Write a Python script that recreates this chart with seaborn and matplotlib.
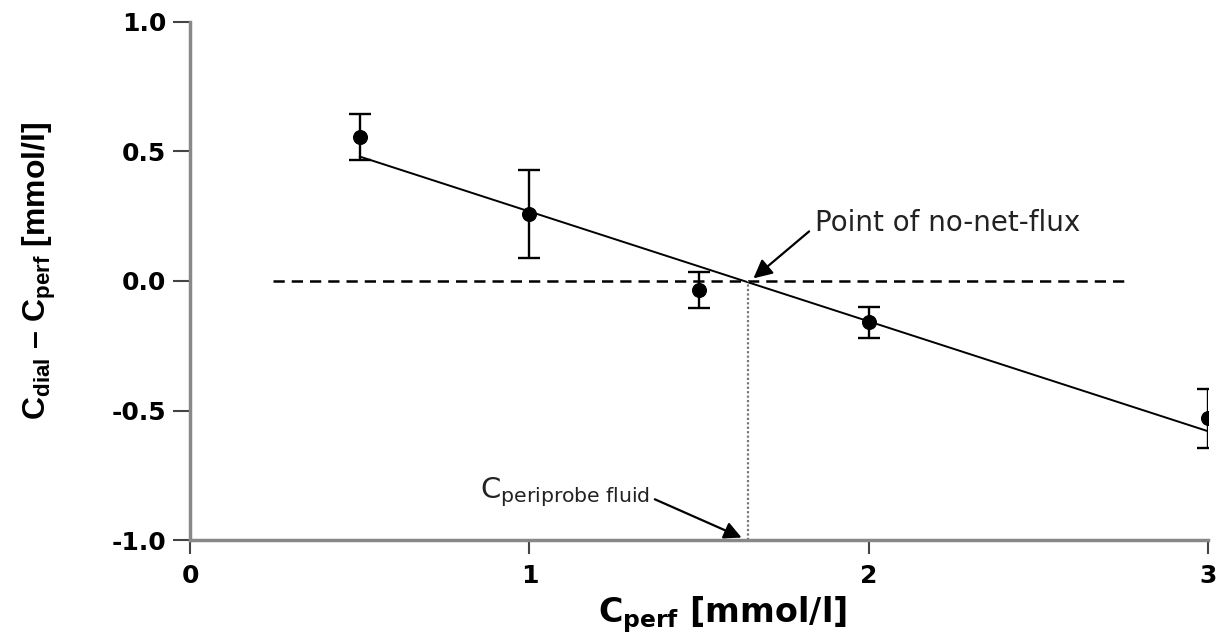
import matplotlib
matplotlib.use("Agg")
import matplotlib.pyplot as plt
import seaborn as sns
import pandas as pd
import numpy as np

# Data
c_perf = [0.5, 1.0, 1.5, 2.0, 3.0]
diff_mean = [0.556, 0.26, -0.035, -0.16, -0.53]
diff_err = [0.09, 0.17, 0.07, 0.06, 0.115]
fit_x = [0.5, 3.0]
fit_y = [0.48, -0.58]
zero_x = [0.245, 2.766]
zero_y = [0.0, 0.0]
nnf_x = 1.645
x_ticks = [0, 1, 2, 3]
y_ticks = [-1.0, -0.5, 0.0, 0.5, 1.0]

sns.set_theme(style="white")
plt.rcParams['font.family'] = ['Liberation Sans', 'DejaVu Sans']
plt.rcParams['text.color'] = 'black'
plt.rcParams['axes.labelcolor'] = 'black'
plt.rcParams['xtick.color'] = 'black'
plt.rcParams['ytick.color'] = 'black'
plt.rcParams['mathtext.fontset'] = 'custom'
plt.rcParams['mathtext.rm'] = 'Liberation Sans:bold'
plt.rcParams['mathtext.it'] = 'Liberation Sans:bold'
plt.rcParams['mathtext.bf'] = 'DejaVu Sans:bold'
plt.rcParams['mathtext.sf'] = 'DejaVu Sans'
plt.rcParams['mathtext.default'] = 'rm'

fig = plt.figure(figsize=(12.18, 6.4), dpi=100)
ax = fig.add_axes([0.156, 0.156, 0.836, 0.81])

df = pd.DataFrame({"x": c_perf, "y": diff_mean})
fit = pd.DataFrame({"x": fit_x, "y": fit_y})
zero = pd.DataFrame({"x": zero_x, "y": zero_y})

sns.lineplot(data=zero, x="x", y="y", ax=ax, color="black", linestyle=(0, (4.5, 2.8)), linewidth=1.8)
sns.lineplot(data=fit, x="x", y="y", ax=ax, color="black", linewidth=1.4)
ax.errorbar(c_perf, diff_mean, yerr=diff_err, fmt="none", ecolor="black", elinewidth=1.7, capsize=8, capthick=1.7)
sns.scatterplot(data=df, x="x", y="y", ax=ax, color="black", s=100, edgecolor="black", zorder=5)

ax.plot([nnf_x, nnf_x], [-1.0, 0.0], color="#777777", linestyle=(0, (1, 1)), linewidth=1.6)

ax.annotate("Point of no-net-flux", xy=(1.66, 0.01), xytext=(1.84, 0.225),
            fontsize=20, va="center", ha="left", family="DejaVu Sans", color="#222222",
            arrowprops=dict(arrowstyle="-|>", color="black", lw=1.6, mutation_scale=28,
                            shrinkA=2, shrinkB=0, relpos=(0, 0.35)))
ax.annotate(r"$\mathsf{C}_{\mathsf{periprobe\ fluid}}$", xy=(1.625, -0.99), xytext=(0.855, -0.815),
            fontsize=21, va="center", ha="left", color="#222222",
            arrowprops=dict(arrowstyle="-|>", color="black", lw=1.6, mutation_scale=26,
                            shrinkA=1, shrinkB=0, relpos=(1, 0.35)))

ax.set_xlim(0, 3)
ax.set_ylim(-1.0, 1.0)
ax.set_xticks(x_ticks)
ax.set_yticks(y_ticks)
ax.set_xticklabels([str(t) for t in x_ticks], fontsize=18, fontweight="bold", family="DejaVu Sans")
ax.set_yticklabels([f"{t:.1f}" for t in y_ticks], fontsize=18, fontweight="bold", family="DejaVu Sans")
ax.tick_params(axis="y", direction="out", length=12, width=1.5, color="#444444", left=True, pad=5)
ax.tick_params(axis="x", direction="out", length=10, width=1.5, color="#444444", bottom=True, pad=7)

ax.set_xlabel(r"$\mathbf{C_{perf}}$ [mmol/l]", fontsize=24, fontweight="bold", family="DejaVu Sans")
ax.xaxis.set_label_coords(0.523, -0.105)
ax.set_ylabel(r"C$_{dial}$ – C$_{perf}$ [mmol/l]", fontsize=23, fontweight="bold")
ax.yaxis.set_label_coords(-0.13, 0.52)

for side in ["top", "right"]:
    ax.spines[side].set_visible(False)
for side in ["left", "bottom"]:
    ax.spines[side].set_color("#888888")
    ax.spines[side].set_linewidth(2.5)

fig.savefig("out.png", dpi=100)
